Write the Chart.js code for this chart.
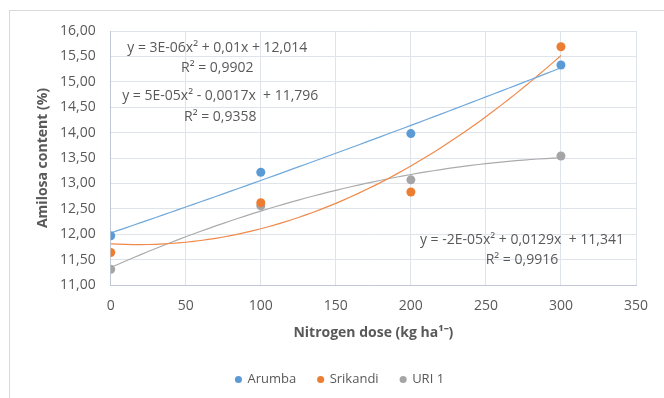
<!DOCTYPE html>
<html>
<head>
<meta charset="utf-8">
<script src="https://cdn.jsdelivr.net/npm/chart.js@4/dist/chart.umd.min.js"></script>
<style>
  body { margin: 0; background: #fff; }
  #wrap { position: relative; width: 664px; height: 398px; overflow: hidden; }
  #frame { position: absolute; left: 9px; top: 10px; width: 700px; height: 420px; border: 1px solid #d9d9d9; }
  canvas { position: absolute; left: 0; top: 0; }
</style>
</head>
<body>
<div id="wrap">
  <div id="frame"></div>
  <canvas id="myChart" width="664" height="398"></canvas>
</div>
<script>
var doses = [0, 100, 200, 300];
var arumba = [11.97, 13.22, 13.98, 15.33];
var srikandi = [11.64, 12.62, 12.83, 15.69];
var uri1 = [11.31, 12.56, 13.07, 13.54];
var seriesNames = ["Arumba", "Srikandi", "URI 1"];
var seriesColors = ["#5B9BD5", "#ED7D31", "#A5A5A5"];
var trendColors = ["#6FA8DC", "#F0894A", "#ABABAB"];
var yTicks = [11, 11.5, 12, 12.5, 13, 13.5, 14, 14.5, 15, 15.5, 16];

// equation labels, anchored in data units (x, y)
var eqLabels = [
    { text: "y = 3E-06x\u00b2 + 0,01x + 12,014", x: 71, y: 15.67 },
    { text: "R\u00b2 = 0,9902", x: 71, y: 15.27 },
    { text: "y = 5E-05x\u00b2 - 0,0017x  + 11,796", x: 73, y: 14.72 },
    { text: "R\u00b2 = 0,9358", x: 73, y: 14.31 },
    { text: "y = -2E-05x\u00b2 + 0,0129x  + 11,341", x: 274, y: 11.89 },
    { text: "R\u00b2 = 0,9916", x: 274, y: 11.49 }
];

// least squares quadratic, like an Excel polynomial trendline
function quadFit(xs, ys) {
    var s = [0, 0, 0, 0, 0], t = [0, 0, 0];
    for (var i = 0; i < xs.length; i++) {
        var p = 1;
        for (var k = 0; k < 5; k++) { s[k] += p; if (k < 3) t[k] += p * ys[i]; p *= xs[i]; }
    }
    var m = [[s[0], s[1], s[2], t[0]], [s[1], s[2], s[3], t[1]], [s[2], s[3], s[4], t[2]]];
    for (var c = 0; c < 3; c++) {
        for (var r = c + 1; r < 3; r++) {
            var f = m[r][c] / m[c][c];
            for (var j = c; j < 4; j++) m[r][j] -= f * m[c][j];
        }
    }
    var b = [0, 0, 0];
    for (var r2 = 2; r2 >= 0; r2--) {
        var v = m[r2][3];
        for (var j2 = r2 + 1; j2 < 3; j2++) v -= m[r2][j2] * b[j2];
        b[r2] = v / m[r2][r2];
    }
    return b;
}

function trendPoints(ys) {
    var b = quadFit(doses, ys);
    var pts = [];
    for (var x = doses[0]; x <= doses[doses.length - 1]; x += 5) {
        pts.push({ x: x, y: b[0] + b[1] * x + b[2] * x * x });
    }
    return pts;
}

function toPoints(ys) {
    return doses.map(function (d, i) { return { x: d, y: ys[i] }; });
}

var allSeries = [arumba, srikandi, uri1];
var datasets = [];
allSeries.forEach(function (ys, i) {
    datasets.push({
        label: seriesNames[i],
        data: toPoints(ys),
        showLine: false,
        backgroundColor: seriesColors[i],
        borderColor: seriesColors[i],
        pointRadius: 4.5,
        pointHoverRadius: 4.5,
        pointBorderWidth: 0,
        order: 0
    });
});
allSeries.forEach(function (ys, i) {
    datasets.push({
        label: "trend " + seriesNames[i],
        data: trendPoints(ys),
        showLine: true,
        borderColor: trendColors[i],
        borderWidth: 1.2,
        pointRadius: 0,
        tension: 0,
        order: 1
    });
});

var eqPlugin = {
    id: "eqLabels",
    afterDatasetsDraw: function (chart) {
        var ctx = chart.ctx, xs = chart.scales.x, ys = chart.scales.y;
        ctx.save();
        ctx.font = "14px 'Open Sans'";
        ctx.fillStyle = "#595959";
        ctx.textAlign = "center";
        ctx.textBaseline = "middle";
        eqLabels.forEach(function (l) {
            ctx.fillText(l.text, xs.getPixelForValue(l.x), ys.getPixelForValue(l.y));
        });
        ctx.restore();
    }
};

var tickColor = "#595959";
var gridColor = "#dfe4ea";

new Chart("myChart", {
    type: "scatter",
    data: { datasets: datasets },
    plugins: [eqPlugin],
    options: {
        responsive: false,
        animation: false,
        devicePixelRatio: 1,
        layout: { padding: { left: 44, top: 31, right: 28, bottom: 2 } },
        plugins: {
            tooltip: { enabled: false },
            legend: {
                position: "bottom",
                labels: {
                    filter: function (item) { return item.datasetIndex < 3; },
                    usePointStyle: true,
                    pointStyle: "circle",
                    boxWidth: 5,
                    boxHeight: 5,
                    padding: 22,
                    color: tickColor,
                    font: { family: "'Open Sans'", size: 13 }
                }
            }
        },
        scales: {
            x: {
                type: "linear",
                min: 0,
                max: 350,
                afterFit: function (scale) { scale.height = 66; },
                ticks: {
                    stepSize: 50,
                    padding: 13,
                    color: tickColor,
                    font: { family: "'Open Sans'", size: 14 }
                },
                grid: { color: gridColor, drawTicks: false },
                border: { color: "#bfc8d4" },
                title: {
                    display: true,
                    text: "Nitrogen dose (kg ha\u00b9\u207b)",
                    color: tickColor,
                    font: { family: "'Open Sans'", size: 14, weight: "bold" },
                    padding: { top: 0, bottom: 9.6 }
                }
            },
            y: {
                min: 11,
                max: 16,
                afterFit: function (scale) { scale.width = 66.7; },
                afterBuildTicks: function (scale) {
                    scale.ticks = yTicks.map(function (v) { return { value: v }; });
                },
                ticks: {
                    padding: 15,
                    color: tickColor,
                    font: { family: "'Open Sans'", size: 14 },
                    callback: function (v) { return v.toFixed(2).replace(".", ","); }
                },
                grid: { color: gridColor, drawTicks: false },
                border: { color: "#bfc8d4" },
                title: {
                    display: true,
                    text: "Amilosa content (%)",
                    color: tickColor,
                    font: { family: "'Open Sans'", size: 14, weight: "bold" },
                    padding: { top: -9.4, bottom: 0 }
                }
            }
        }
    }
});
</script>
</body>
</html>
